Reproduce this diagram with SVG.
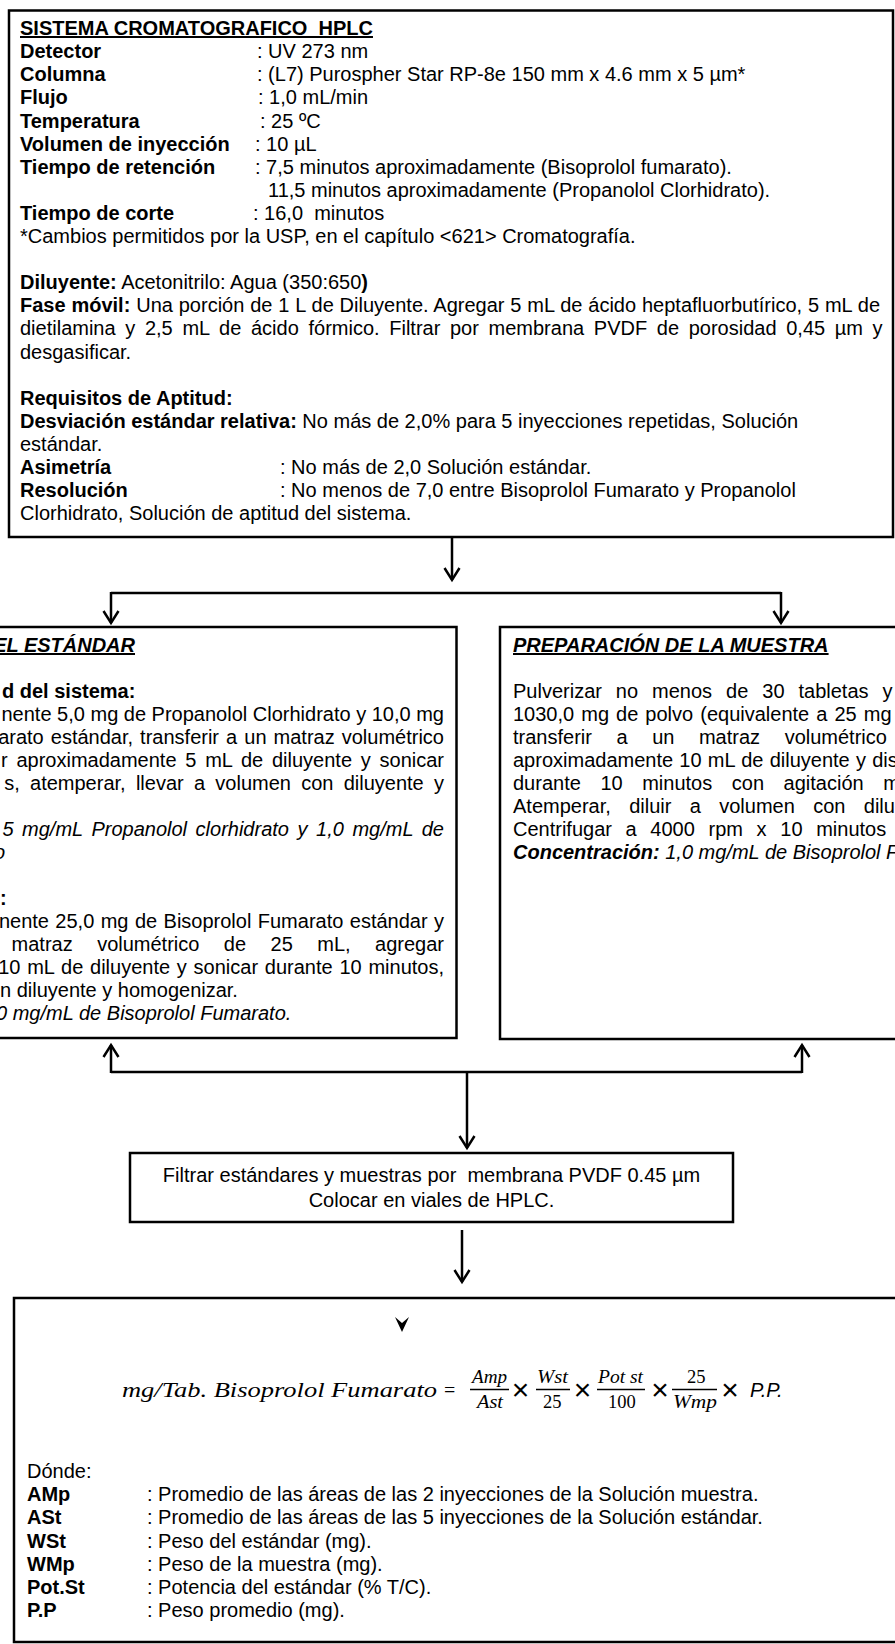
<svg xmlns="http://www.w3.org/2000/svg" width="895" height="1644" viewBox="0 0 895 1644">
<defs>
<style>
text{font-family:"Liberation Sans",Arial,sans-serif;font-size:20px;fill:#000}
.b{font-weight:bold}
.i{font-style:italic}
.u{text-decoration:underline}
.pre{white-space:pre}
.box{fill:#fff;stroke:#000;stroke-width:2.5}
.ln{fill:none;stroke:#000;stroke-width:2.5}
.m{font-family:"Liberation Serif","Times New Roman",serif;font-style:italic}
.n{font-family:"Liberation Serif","Times New Roman",serif;font-style:normal}
.fr{font-size:18.5px}
.bar{stroke:#000;stroke-width:1.3}
.x{text-anchor:middle}
.mul{font-size:30px;text-anchor:middle}
</style>
<marker id="ah" markerUnits="userSpaceOnUse" viewBox="-16 -10 20 20" refX="0" refY="0" markerWidth="20" markerHeight="20" orient="auto">
<path d="M-12,-7.5 L0,0 L-12,7.5" fill="none" stroke="#000" stroke-width="2.5" stroke-linejoin="miter"/>
</marker>
</defs>
<rect width="895" height="1644" fill="#fff"/>

<g id="node-sistema">
<rect class="box" x="9" y="10.5" width="884" height="526.5"/>
<text class="b u pre" x="20" y="35" xml:space="preserve">SISTEMA CROMATOGRAFICO  HPLC</text>
<text class="b" x="20" y="58.2">Detector</text><text x="257" y="58.2">: UV 273 nm</text>
<text class="b" x="20" y="81.3">Columna</text><text x="257" y="81.3">: (L7) Purospher Star RP-8e 150 mm x 4.6 mm x 5 µm*</text>
<text class="b" x="20" y="104.4">Flujo</text><text x="258" y="104.4">: 1,0 mL/min</text>
<text class="b" x="20" y="127.5">Temperatura</text><text x="260" y="127.5">: 25 ºC</text>
<text class="b" x="20" y="150.6">Volumen de inyección</text><text x="255" y="150.6">: 10 µL</text>
<text class="b" x="20" y="173.7">Tiempo de retención</text><text x="255" y="173.7">: 7,5 minutos aproximadamente (Bisoprolol fumarato).</text>
<text x="268" y="196.8">11,5 minutos aproximadamente (Propanolol Clorhidrato).</text>
<text class="b" x="20" y="219.9">Tiempo de corte</text><text class="pre" x="253" y="219.9" xml:space="preserve">: 16,0  minutos</text>
<text x="20" y="243">*Cambios permitidos por la USP, en el capítulo &lt;621&gt; Cromatografía.</text>
<text x="20" y="289.2"><tspan class="b">Diluyente:</tspan> Acetonitrilo: Agua (350:650<tspan class="b">)</tspan></text>
<text x="20" y="312.3" style="word-spacing:0.3px"><tspan class="b">Fase móvil:</tspan> Una porción de 1 L de Diluyente. Agregar 5 mL de ácido heptafluorbutírico, 5 mL de</text>
<text x="20" y="335.4" style="word-spacing:4.1px">dietilamina y 2,5 mL de ácido fórmico. Filtrar por membrana PVDF de porosidad 0,45 µm y</text>
<text x="20" y="358.5">desgasificar.</text>
<text class="b" x="20" y="404.7">Requisitos de Aptitud:</text>
<text x="20" y="427.8"><tspan class="b">Desviación estándar relativa:</tspan> No más de 2,0% para 5 inyecciones repetidas, Solución</text>
<text x="20" y="450.9">estándar.</text>
<text class="b" x="20" y="474">Asimetría</text><text x="280" y="474">: No más de 2,0 Solución estándar.</text>
<text class="b" x="20" y="497.1">Resolución</text><text x="280" y="497.1">: No menos de 7,0 entre Bisoprolol Fumarato y Propanolol</text>
<text x="20" y="520.2">Clorhidrato, Solución de aptitud del sistema.</text>
</g>

<g id="node-estandar">
<rect class="box" x="-300" y="627" width="756.5" height="411"/>
<text class="b i u" x="135" y="652" text-anchor="end">EL ESTÁNDAR</text>
<text class="b" x="2" y="698">d del sistema:</text>
<text x="444" y="721" text-anchor="end">nente 5,0 mg de Propanolol Clorhidrato y 10,0 mg</text>
<text x="444" y="744" text-anchor="end" style="word-spacing:1.5px">arato estándar, transferir a un matraz volumétrico</text>
<text x="444" y="767" text-anchor="end" style="word-spacing:3.2px">r aproximadamente 5 mL de diluyente y sonicar</text>
<text x="444" y="790" text-anchor="end" style="word-spacing:4.7px">s, atemperar, llevar a volumen con diluyente y</text>
<text class="i" x="444" y="836" text-anchor="end" style="word-spacing:3px">5 mg/mL Propanolol clorhidrato y 1,0 mg/mL de</text>
<text class="i" x="-6" y="859">o</text>
<text class="b" x="0" y="905">:</text>
<text x="444" y="928" text-anchor="end" style="word-spacing:0.85px">nente 25,0 mg de Bisoprolol Fumarato estándar y</text>
<text x="444" y="951" text-anchor="end" style="word-spacing:18.9px">matraz volumétrico de 25 mL, agregar</text>
<text x="444" y="974" text-anchor="end" style="word-spacing:1.2px">10 mL de diluyente y sonicar durante 10 minutos,</text>
<text x="0" y="997">n diluyente y homogenizar.</text>
<text class="i" x="-4" y="1020">0 mg/mL de Bisoprolol Fumarato.</text>
</g>

<g id="node-muestra">
<rect class="box" x="500" y="627" width="450" height="412"/>
<text class="b i u" x="513" y="652">PREPARACIÓN DE LA MUESTRA</text>
<text x="513" y="698" style="word-spacing:8.4px">Pulverizar no menos de 30 tabletas y</text>
<text x="513" y="721" style="word-spacing:1.5px">1030,0 mg de polvo (equivalente a 25 mg</text>
<text x="513" y="744" style="word-spacing:19px">transferir a un matraz volumétrico</text>
<text x="513" y="767" style="word-spacing:0.7px">aproximadamente 10 mL de diluyente y dis</text>
<text x="513" y="790" style="word-spacing:14px">durante 10 minutos con agitación m</text>
<text x="513" y="813" style="word-spacing:12.8px">Atemperar, diluir a volumen con dilu</text>
<text x="513" y="836" style="word-spacing:8.1px">Centrifugar a 4000 rpm x 10 minutos</text>
<text class="i" x="513" y="859"><tspan class="b">Concentración:</tspan> 1,0 mg/mL de Bisoprolol F</text>
</g>

<g id="node-filtrar">
<rect class="box" x="130" y="1153" width="603" height="69"/>
<text class="x pre" x="431.5" y="1181.5" xml:space="preserve">Filtrar estándares y muestras por  membrana PVDF 0.45 µm</text>
<text class="x" x="431.5" y="1207">Colocar en viales de HPLC.</text>
</g>

<g id="node-calculo">
<rect class="box" x="14" y="1298" width="900" height="344"/>
<path d="M395,1317 L402,1323 L409,1317 L402,1332 Z" fill="#000"/>
<text class="m" x="122" y="1396.7" font-size="26" textLength="315" lengthAdjust="spacingAndGlyphs">mg/Tab. Bisoprolol Fumarato</text>
<text class="n" x="444" y="1397" font-size="28">=</text>
<text class="m fr" x="472" y="1383" textLength="35" lengthAdjust="spacingAndGlyphs">Amp</text>
<line class="bar" x1="470" y1="1389.5" x2="509" y2="1389.5"/>
<text class="m fr" x="477" y="1408.3" textLength="26" lengthAdjust="spacingAndGlyphs">Ast</text>
<text class="mul" x="520.5" y="1400">×</text>
<text class="m fr" x="537" y="1383" textLength="31" lengthAdjust="spacingAndGlyphs">Wst</text>
<line class="bar" x1="536" y1="1389.5" x2="570" y2="1389.5"/>
<text class="n fr" x="543" y="1408.3">25</text>
<text class="mul" x="582.5" y="1400">×</text>
<text class="m fr" x="598" y="1383" textLength="45" lengthAdjust="spacingAndGlyphs">Pot st</text>
<line class="bar" x1="597" y1="1389.5" x2="645" y2="1389.5"/>
<text class="n fr" x="608" y="1408.3">100</text>
<text class="mul" x="660" y="1400">×</text>
<text class="n fr" x="687" y="1383">25</text>
<line class="bar" x1="672" y1="1389.5" x2="717" y2="1389.5"/>
<text class="m fr" x="673" y="1408.3" textLength="44" lengthAdjust="spacingAndGlyphs">Wmp</text>
<text class="mul" x="730" y="1400">×</text>
<text class="i" x="750" y="1396.7" font-size="21">P.P.</text>
<text x="27" y="1478">Dónde:</text>
<text class="b" x="27" y="1501.2">AMp</text><text x="147" y="1501.2">: Promedio de las áreas de las 2 inyecciones de la Solución muestra.</text>
<text class="b" x="27" y="1524.4">ASt</text><text x="147" y="1524.4">: Promedio de las áreas de las 5 inyecciones de la Solución estándar.</text>
<text class="b" x="27" y="1547.6">WSt</text><text x="147" y="1547.6">: Peso del estándar (mg).</text>
<text class="b" x="27" y="1570.8">WMp</text><text x="147" y="1570.8">: Peso de la muestra (mg).</text>
<text class="b" x="27" y="1594">Pot.St</text><text x="147" y="1594">: Potencia del estándar (% T/C).</text>
<text class="b" x="27" y="1617.2">P.P</text><text x="147" y="1617.2">: Peso promedio (mg).</text>
</g>

<g id="connectors">
<path class="ln" d="M452,538 V580" marker-end="url(#ah)"/>
<path class="ln" d="M111,593 H781"/>
<path class="ln" d="M111,592 V623" marker-end="url(#ah)"/>
<path class="ln" d="M781,592 V623" marker-end="url(#ah)"/>
<path class="ln" d="M111,1073 V1045" marker-end="url(#ah)"/>
<path class="ln" d="M802,1073 V1045" marker-end="url(#ah)"/>
<path class="ln" d="M111,1072 H802"/>
<path class="ln" d="M467,1073 V1148" marker-end="url(#ah)"/>
<path class="ln" d="M462,1230 V1282" marker-end="url(#ah)"/>
</g>
</svg>
